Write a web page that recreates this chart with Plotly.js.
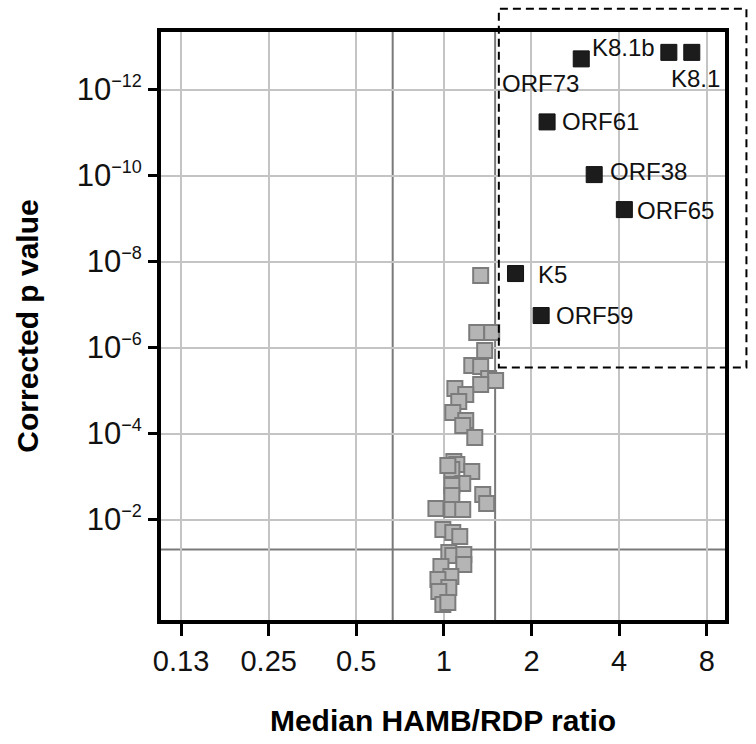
<!DOCTYPE html>
<html><head><meta charset="utf-8">
<script src="https://cdn.plot.ly/plotly-3.0.1.min.js"></script>
<style>html,body{margin:0;padding:0;background:#fff}#chart{width:756px;height:744px}</style>
</head><body><div id="chart"></div>
<script>
// Gray (non-significant / other) genes
const grayRatio = [1.338,1.297,1.460,1.381,1.247,1.338,1.425,1.506,1.338,1.091,1.189,1.125,1.073,1.189,1.161,1.277,
  1.082,1.108,1.065,1.247,1.032,1.161,1.065,1.065,1.360,1.403,0.939,1.065,1.161,0.992,1.073,1.134,1.040,1.073,1.171,
  0.977,1.171,1.057,0.954,1.040,0.961,0.992,1.032];
const grayP = [2.12e-8,4.48e-7,4.48e-7,1.17e-6,2.62e-6,2.77e-6,5.26e-6,5.85e-6,7.24e-6,8.97e-6,1.24e-5,1.80e-5,3.25e-5,4.99e-5,6.52e-5,1.24e-4,
  4.48e-4,5.26e-4,6.87e-4,7.66e-4,5.55e-4,1.46e-3,1.62e-3,2.77e-3,2.62e-3,4.25e-3,5.55e-3,5.85e-3,5.85e-3,0.0171,0.0200,0.0248,0.0585,0.0687,0.0652,
  0.124,0.111,0.212,0.248,0.381,0.472,0.948,0.851];

// Highlighted genes
const genes = ["ORF73","K8.1b","K8.1","ORF61","ORF38","ORF65","K5","ORF59"];
const geneRatio = [2.965,5.93,7.11,2.263,3.285,4.17,1.763,2.159];
const geneP = [1.93e-13,1.36e-13,1.36e-13,5.64e-12,9.48e-11,6.18e-10,1.90e-8,1.80e-7];

// Ticks
const xTickVals = [0.125,0.25,0.5,1,2,4,8];
const xTickText = ["0.13","0.25","0.5","1","2","4","8"];
const yTickVals = [1e-12,1e-10,1e-8,1e-6,1e-4,1e-2];
const yTickExp = ["\u221212","\u221210","\u22128","\u22126","\u22124","\u22122"];

// Cutoffs
const ratioCutoffs = [0.667, 1.5];
const pCutoff = 0.05;

// Label placement (style only)
const labelPlace = {
  "ORF73": {xanchor:"center", xshift:-41, yshift:-25},
  "K8.1b": {xanchor:"center", xshift:-45, yshift:5},
  "K8.1":  {xanchor:"center", xshift:4, yshift:-26},
  "ORF61": {xanchor:"left", xshift:13, yshift:0},
  "ORF38": {xanchor:"left", xshift:14, yshift:3},
  "ORF65": {xanchor:"left", xshift:11, yshift:-1},
  "K5":    {xanchor:"left", xshift:20, yshift:-1},
  "ORF59": {xanchor:"left", xshift:13, yshift:0}
};

const FONT = "Liberation Sans, Arial, Helvetica, sans-serif";

const yTickText = yTickExp.map(e => "10<sup><span style='font-size:18px'>" + e + "</span></sup>");

const traces = [
  {type:"scatter", mode:"markers", x:grayRatio, y:grayP, hoverinfo:"skip",
   marker:{symbol:"square", size:15, color:"#b5b5b5", line:{color:"#7c7c7c", width:2}}},
  {type:"scatter", mode:"markers", x:geneRatio, y:geneP, text:genes,
   marker:{symbol:"square", size:16, color:"#1c1c1c", line:{color:"#111", width:1}}}
];

const annotations = genes.map((g,i)=>({
  x:Math.log10(geneRatio[i]), y:Math.log10(geneP[i]), xref:"x", yref:"y",
  text:g, showarrow:false, xanchor:labelPlace[g].xanchor, yanchor:"middle",
  xshift:labelPlace[g].xshift, yshift:labelPlace[g].yshift,
  font:{family:FONT, size:24, color:"#111"}
}));

const shapes = [
  ...ratioCutoffs.map(v=>({type:"line", xref:"x", yref:"paper", x0:v, x1:v, y0:0, y1:1,
    line:{color:"#7a7a7a", width:2}, layer:"below"})),
  {type:"line", xref:"paper", yref:"y", x0:0, x1:1, y0:pCutoff, y1:pCutoff,
    line:{color:"#7a7a7a", width:2}, layer:"below"},
  {type:"rect", xref:"paper", yref:"paper", x0:0.599, x1:1.038, y0:0.4293, y1:1.0396,
    line:{color:"#000", width:2, dash:"8px,5px"}, fillcolor:"rgba(0,0,0,0)"}
];

const layout = {
  width:756, height:744,
  margin:{l:160.5, r:30.5, t:32.3, b:123.5},
  paper_bgcolor:"#fff", plot_bgcolor:"#fff",
  showlegend:false,
  font:{family:FONT, color:"#000"},
  xaxis:{type:"log", range:[-0.972, 0.966], tickvals:xTickVals, ticktext:xTickText,
    showgrid:true, gridcolor:"#c4c4c4", gridwidth:2, zeroline:false,
    showline:true, linecolor:"#000", linewidth:4, mirror:true,
    ticks:"outside", ticklen:12, tickwidth:3, tickcolor:"#000",
    tickfont:{family:FONT, size:29, color:"#111"},
    title:{text:"<b>Median HAMB/RDP ratio</b>", font:{family:FONT, size:30, color:"#000"}, standoff:35}},
  yaxis:{type:"log", range:[0.337, -13.34], tickvals:yTickVals, ticktext:yTickText,
    showgrid:true, gridcolor:"#c4c4c4", gridwidth:2, zeroline:false,
    showline:true, linecolor:"#000", linewidth:4, mirror:true,
    ticks:"outside", ticklen:9, tickwidth:3, tickcolor:"#000",
    tickfont:{family:FONT, size:31, color:"#111"},
    title:{text:"<b>Corrected p value</b>", font:{family:FONT, size:30, color:"#000"}, standoff:30}},
  shapes:shapes,
  annotations:annotations
};

Plotly.newPlot("chart", traces, layout, {staticPlot:true, displayModeBar:false});
</script></body></html>
